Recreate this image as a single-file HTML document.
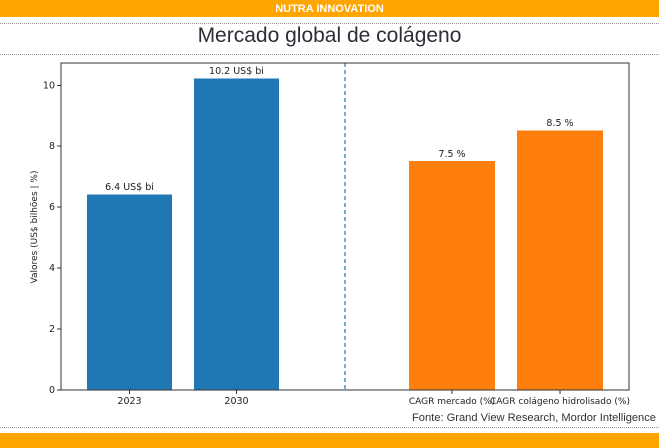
<!DOCTYPE html>
<html><head><meta charset="utf-8"><style>
body{margin:0;width:659px;height:448px;background:#fff;overflow:hidden;position:relative;font-family:"DejaVu Sans","Liberation Sans",sans-serif}
.top{position:absolute;left:0;top:0;width:659px;height:17px;background:#ffa500;color:#fff;font:bold 11px "Liberation Sans",sans-serif;text-align:center;line-height:18px}
.dot{position:absolute;left:0;width:659px;border-top:1px dotted #999}
.title{position:absolute;left:0;width:659px;top:24px;text-align:center;font:21px "Liberation Sans",sans-serif;color:#2e2e3a}
.bot{position:absolute;left:0;top:433px;width:659px;height:15px;background:#ffa500}
</style></head><body>
<div class="top">NUTRA INNOVATION</div>
<div class="dot" style="top:23px"></div>
<div class="title">Mercado global de colágeno</div>
<div class="dot" style="top:54px"></div>
<svg width="659" height="448" style="position:absolute;left:0;top:0" font-family="DejaVu Sans, Liberation Sans, sans-serif" font-size="9.5">
<rect x="87" y="194.5" width="85" height="195.5" fill="#1f77b4"/>
<rect x="194" y="78.5" width="85" height="311.5" fill="#1f77b4"/>
<rect x="409" y="161" width="86" height="229" fill="#ff7f0e"/>
<rect x="517" y="130.5" width="86" height="259.5" fill="#ff7f0e"/>
<line x1="345" y1="63" x2="345" y2="390" stroke="#1f77b4" stroke-width="1.2" stroke-dasharray="4,3"/>
<rect x="61" y="63" width="568" height="327" fill="none" stroke="#333" stroke-width="1"/>
<g fill="#222" text-anchor="middle">
<text x="129.5" y="190">6.4 US$ bi</text>
<text x="236.5" y="74">10.2 US$ bi</text>
<text x="452" y="157">7.5 %</text>
<text x="560" y="126">8.5 %</text>
<text x="129.5" y="404">2023</text>
<text x="236.5" y="404">2030</text>
<text x="452" y="404" font-size="9">CAGR mercado (%)</text>
<text x="560" y="404" font-size="9">CAGR colágeno hidrolisado (%)</text>
</g>
<g fill="#222" text-anchor="end" stroke="none">
<text x="55" y="393">0</text><text x="55" y="332">2</text><text x="55" y="271">4</text><text x="55" y="210">6</text><text x="55" y="149">8</text><text x="55" y="88.5">10</text>
</g>
<g stroke="#333">
<line x1="57" x2="61" y1="390" y2="390"/><line x1="57" x2="61" y1="329" y2="329"/><line x1="57" x2="61" y1="268" y2="268"/><line x1="57" x2="61" y1="207" y2="207"/><line x1="57" x2="61" y1="146" y2="146"/><line x1="57" x2="61" y1="85.5" y2="85.5"/>
<line x1="129.5" x2="129.5" y1="390" y2="394"/><line x1="236.5" x2="236.5" y1="390" y2="394"/><line x1="452" x2="452" y1="390" y2="394"/><line x1="560" x2="560" y1="390" y2="394"/>
</g>
<text transform="translate(37,227) rotate(-90)" text-anchor="middle" fill="#222" font-size="9">Valores (US$ bilhões | %)</text>
<text x="656" y="421" text-anchor="end" fill="#333" font-size="11" textLength="244" lengthAdjust="spacingAndGlyphs" font-family="Liberation Sans, sans-serif">Fonte: Grand View Research, Mordor Intelligence</text>
</svg>
<div class="dot" style="top:427px"></div>
<div class="bot"></div>
</body></html>
